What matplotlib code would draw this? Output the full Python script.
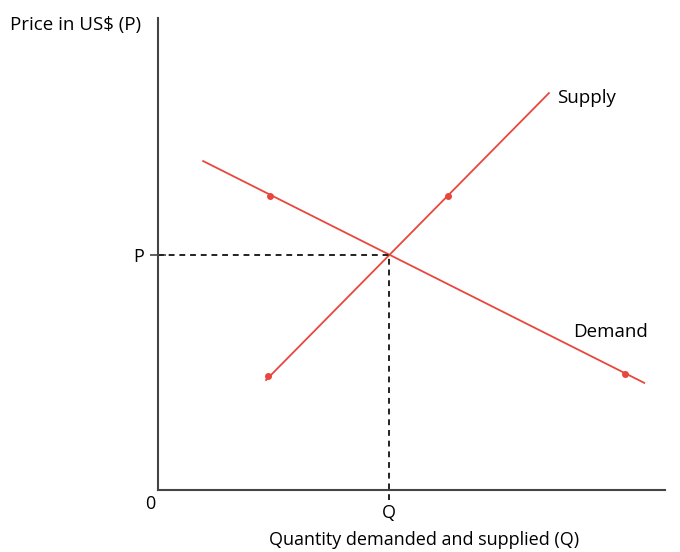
import matplotlib
matplotlib.use('Agg')
import matplotlib.pyplot as plt

plt.rcParams['font.family'] = ['Open Sans', 'DejaVu Sans']

# demand and supply curves (arbitrary units, origin at axes corner)
demand_q = [0.89, 9.59]
demand_p = [6.97, 2.27]
demand_dots_q = [2.21, 9.21]
demand_dots_p = [6.23, 2.46]

supply_q = [2.13, 7.71]
supply_p = [2.33, 8.41]
supply_dots_q = [2.17, 5.72]
supply_dots_p = [2.42, 6.23]

eq_q = 4.55
eq_p = 4.97

red = '#e8473d'

fig = plt.figure(figsize=(6.8, 5.52), dpi=100)
ax = fig.add_axes([0.2324, 0.1123, 0.7456, 0.855])

ax.plot(demand_q, demand_p, color=red, lw=1.3)
ax.plot(demand_dots_q, demand_dots_p, 'o', color=red, ms=4)
ax.plot(supply_q, supply_p, color=red, lw=1.3)
ax.plot(supply_dots_q, supply_dots_p, 'o', color=red, ms=4)

# dashed guides to the equilibrium
ax.plot([0, eq_q], [eq_p, eq_p], color='#222222', lw=1.4, ls=(0, (3, 2.5)))
ax.plot([eq_q, eq_q], [-0.22, eq_p], color='#222222', lw=1.4, ls=(0, (3, 2.5)),
        clip_on=False)

ax.set_xlim(0, 10)
ax.set_ylim(0, 10)
for s in ['top', 'right']:
    ax.spines[s].set_visible(False)
for s in ['left', 'bottom']:
    ax.spines[s].set_color('#444444')
    ax.spines[s].set_linewidth(1.5)

ax.set_yticks([eq_p])
ax.set_yticklabels(['P'], fontsize=13)
ax.tick_params(axis='y', direction='inout', length=12, width=1.2, color='#444444', pad=4)
ax.set_xticks([eq_q])
ax.set_xticklabels(['Q'], fontsize=13)
ax.tick_params(axis='x', length=0, pad=10)

ax.text(-0.05, -0.1, '0', ha='right', va='top', fontsize=13)
ax.text(7.87, 8.31, 'Supply', ha='left', va='center', fontsize=13.5)
ax.text(8.19, 3.35, 'Demand', ha='left', va='center', fontsize=13.5)

fig.text(10 / 680, 1 - 25 / 552, 'Price in US$ (P)', ha='left', va='center', fontsize=13.5)
fig.text(424 / 680, 1 - 540 / 552, 'Quantity demanded and supplied (Q)',
         ha='center', va='center', fontsize=13)

fig.savefig('out.png', dpi=100)
